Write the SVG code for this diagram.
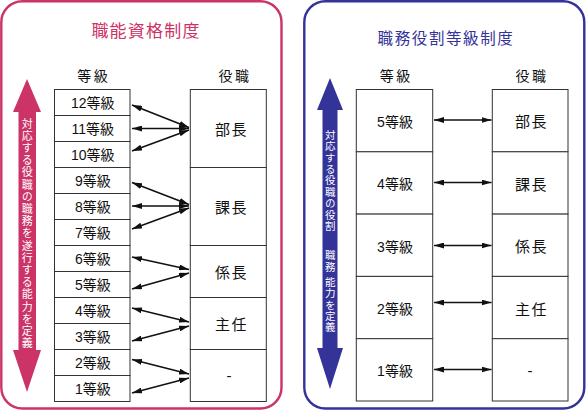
<svg xmlns="http://www.w3.org/2000/svg" width="587" height="412" viewBox="0 0 587 412">
<defs>
<marker id="ah" viewBox="0 0 10 6" refX="10" refY="3" markerWidth="10" markerHeight="6" markerUnits="userSpaceOnUse" orient="auto-start-reverse">
<path d="M0,0 L10,3 L0,6 Z" fill="#111"/>
</marker>
</defs>
<style>
text{font-family:"Liberation Sans","Noto Sans CJK JP",sans-serif;fill:#111}
.box{fill:#fff;stroke:#333;stroke-width:1}
.lbl{font-size:14px;text-anchor:middle;dominant-baseline:central}
.hdr{font-size:14px;text-anchor:middle;dominant-baseline:central;letter-spacing:2.5px}
.role{font-size:15px;text-anchor:middle;dominant-baseline:central;letter-spacing:1.5px}
.dash{font-size:15px;text-anchor:middle;dominant-baseline:central}
.con line{stroke:#111;stroke-width:1.6;marker-start:url(#ah);marker-end:url(#ah)}
.vt{fill:#fff;writing-mode:vertical-rl;text-orientation:upright;font-family:"Noto Sans CJK JP",sans-serif}
</style>

<g id="panel-left">
<rect x="1.3" y="1.3" width="280.2" height="407.2" rx="21" fill="#fff" stroke="#cc3366" stroke-width="2.4"/>
<text x="146" y="31.5" font-size="17" text-anchor="middle" dominant-baseline="central" letter-spacing="1.2" style="fill:#cc3366">職能資格制度</text>
<text class="hdr" x="93.7" y="75.5">等級</text>
<text class="hdr" x="235" y="75.5">役職</text>
</g>

<g id="arrow-left">
<polygon points="27,79 41,112 36,112 36,350 41,350 27,392 13,350 18.5,350 18.5,112 13,112" fill="#cc3366"/>
<text class="vt" x="27.3" y="118" font-size="11" letter-spacing="1.2">対応する役職の職務を遂行する能力を定義</text>
</g>

<g id="grades-left">
<rect class="box" x="54.5" y="89.5" width="75.5" height="26"/>
<rect class="box" x="54.5" y="115.5" width="75.5" height="26"/>
<rect class="box" x="54.5" y="141.5" width="75.5" height="26"/>
<rect class="box" x="54.5" y="167.5" width="75.5" height="26"/>
<rect class="box" x="54.5" y="193.5" width="75.5" height="26"/>
<rect class="box" x="54.5" y="219.5" width="75.5" height="26"/>
<rect class="box" x="54.5" y="245.5" width="75.5" height="26"/>
<rect class="box" x="54.5" y="271.5" width="75.5" height="26"/>
<rect class="box" x="54.5" y="297.5" width="75.5" height="26"/>
<rect class="box" x="54.5" y="323.5" width="75.5" height="26"/>
<rect class="box" x="54.5" y="349.5" width="75.5" height="26"/>
<rect class="box" x="54.5" y="375.5" width="75.5" height="26"/>
<text class="lbl" x="92.8" y="103">12等級</text>
<text class="lbl" x="92.8" y="129">11等級</text>
<text class="lbl" x="92.8" y="155">10等級</text>
<text class="lbl" x="92.8" y="181">9等級</text>
<text class="lbl" x="92.8" y="207">8等級</text>
<text class="lbl" x="92.8" y="233">7等級</text>
<text class="lbl" x="92.8" y="259">6等級</text>
<text class="lbl" x="92.8" y="285">5等級</text>
<text class="lbl" x="92.8" y="311">4等級</text>
<text class="lbl" x="92.8" y="337">3等級</text>
<text class="lbl" x="92.8" y="363">2等級</text>
<text class="lbl" x="92.8" y="389">1等級</text>
</g>

<g id="roles-left">
<rect class="box" x="190.3" y="89.5" width="76" height="78"/>
<rect class="box" x="190.3" y="167.5" width="76" height="78"/>
<rect class="box" x="190.3" y="245.5" width="76" height="52"/>
<rect class="box" x="190.3" y="297.5" width="76" height="52"/>
<rect class="box" x="190.3" y="349.5" width="76" height="52"/>
<text class="role" x="231.5" y="129.5">部長</text>
<text class="role" x="231.5" y="207.5">課長</text>
<text class="role" x="231.5" y="272">係長</text>
<text class="role" x="231.5" y="324">主任</text>
<text class="dash" x="229" y="375">-</text>
</g>

<g id="panel-right">
<rect x="304.3" y="1.3" width="280" height="407.2" rx="21" fill="#fff" stroke="#333399" stroke-width="2.4"/>
<text x="446" y="38.5" font-size="15.5" text-anchor="middle" dominant-baseline="central" letter-spacing="1.6" style="fill:#333399">職務役割等級制度</text>
<text class="hdr" x="396.3" y="75.5">等級</text>
<text class="hdr" x="532" y="75.5">役職</text>
</g>

<g id="arrow-right">
<polygon points="330,78 343,110 337.5,110 337.5,348 343,348 330,389 317,348 322.5,348 322.5,110 317,110" fill="#333399"/>
<text class="vt" x="330.2" y="129.5" font-size="10.5" letter-spacing="0.9">対応する役職の役割</text>
<text class="vt" x="330.2" y="250" font-size="10.5" letter-spacing="0.9">職務</text>
<text class="vt" x="330.2" y="276.5" font-size="10.5" letter-spacing="0.9">能力を定義</text>
</g>

<g id="grades-right">
<rect class="box" x="356.3" y="89.5" width="76.4" height="62.3"/>
<rect class="box" x="356.3" y="151.8" width="76.4" height="62.3"/>
<rect class="box" x="356.3" y="214.1" width="76.4" height="62.3"/>
<rect class="box" x="356.3" y="276.4" width="76.4" height="62.3"/>
<rect class="box" x="356.3" y="338.7" width="76.4" height="62.3"/>
<text class="lbl" x="395" y="121.5">5等級</text>
<text class="lbl" x="395" y="184">4等級</text>
<text class="lbl" x="395" y="246.5">3等級</text>
<text class="lbl" x="395" y="309">2等級</text>
<text class="lbl" x="395" y="371">1等級</text>
</g>

<g id="roles-right">
<rect class="box" x="492.3" y="89.5" width="75.7" height="62.3"/>
<rect class="box" x="492.3" y="151.8" width="75.7" height="62.3"/>
<rect class="box" x="492.3" y="214.1" width="75.7" height="62.3"/>
<rect class="box" x="492.3" y="276.4" width="75.7" height="62.3"/>
<rect class="box" x="492.3" y="338.7" width="75.7" height="62.3"/>
<text class="role" x="531.5" y="121.5">部長</text>
<text class="role" x="531.5" y="184">課長</text>
<text class="role" x="531.5" y="246.5">係長</text>
<text class="role" x="531.5" y="309">主任</text>
<text class="dash" x="530" y="370">-</text>
</g>

<g id="connectors" class="con">
<line x1="132" y1="105" x2="189" y2="127.5"/>
<line x1="132" y1="128.5" x2="189" y2="128.5"/>
<line x1="132" y1="151" x2="189" y2="130"/>
<line x1="132" y1="182.5" x2="189" y2="204.5"/>
<line x1="132" y1="206" x2="189" y2="206"/>
<line x1="132" y1="229" x2="189" y2="208"/>
<line x1="132" y1="257" x2="189" y2="269.5"/>
<line x1="132" y1="289" x2="189" y2="273"/>
<line x1="132" y1="308" x2="189" y2="322"/>
<line x1="132" y1="341" x2="189" y2="326"/>
<line x1="132" y1="359.5" x2="189" y2="374"/>
<line x1="132" y1="393" x2="189" y2="378"/>
<line x1="434" y1="120" x2="491.5" y2="120"/>
<line x1="434" y1="182.5" x2="491.5" y2="182.5"/>
<line x1="434" y1="245.5" x2="491.5" y2="245.5"/>
<line x1="434" y1="302.5" x2="491.5" y2="302.5"/>
<line x1="434" y1="369.5" x2="491.5" y2="369.5"/>
</g>
</svg>
